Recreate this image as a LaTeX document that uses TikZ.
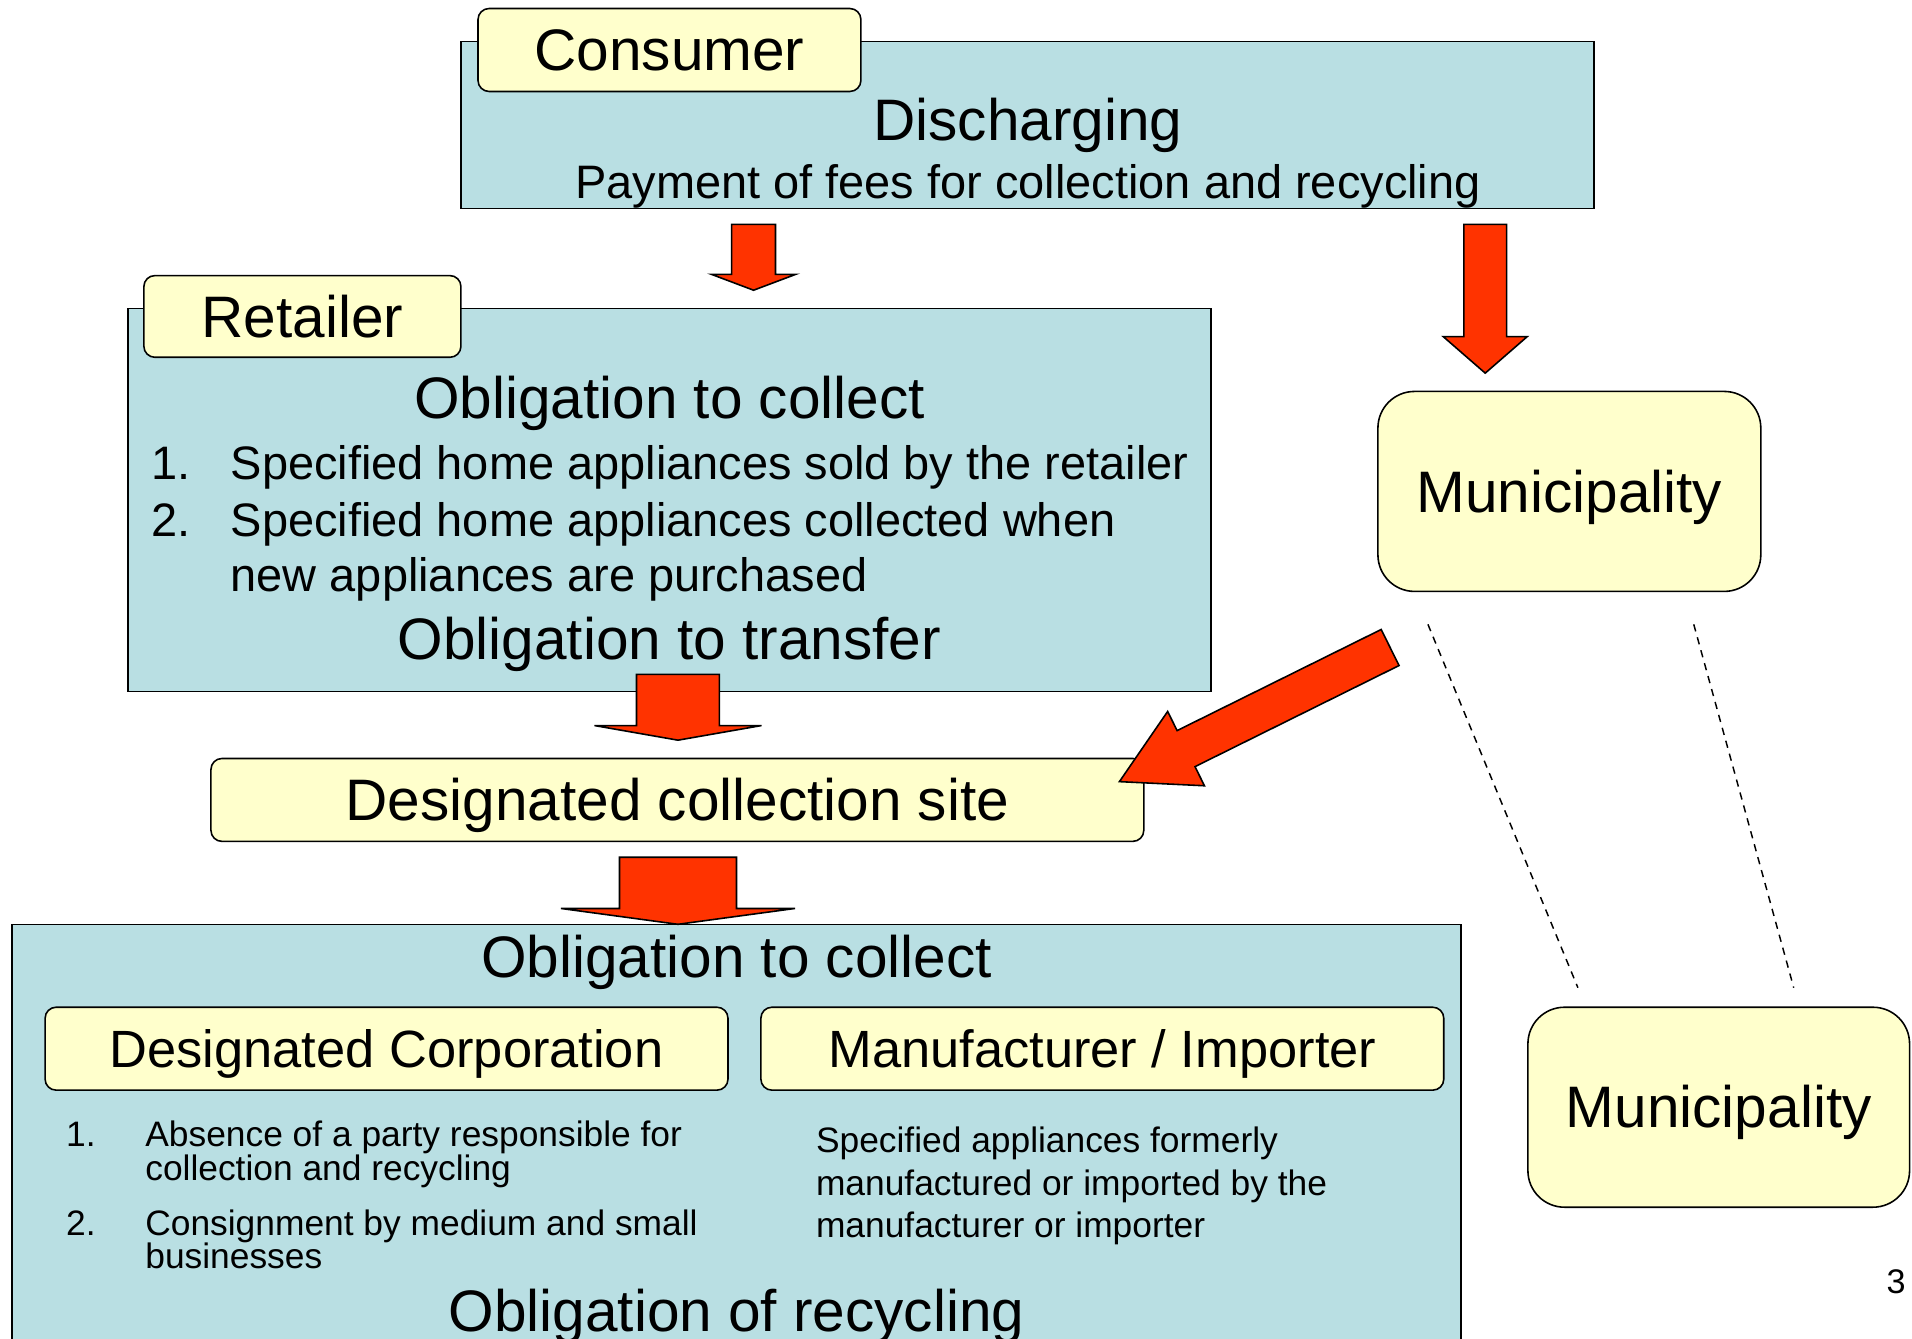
\documentclass[tikz,border=0pt]{standalone}
\usepackage{fontspec}
\setmainfont{Liberation Sans}
\usetikzlibrary{positioning, calc}
\definecolor{boxblue}{HTML}{B9DFE3}
\definecolor{tagyellow}{HTML}{FFFFCC}
\definecolor{arrowred}{HTML}{FF3300}
\tikzset{
        bluebox/.style={draw, fill=boxblue, line width=1.3pt, inner sep=0pt},
        tagbox/.style={draw, fill=tagyellow, line width=1.3pt, rounded corners=9pt,
                inner sep=0pt, text height=34pt, text depth=0pt, font=\fontsize{48}{52}\selectfont},
        munibox/.style={tagbox, rounded corners=30pt},
        subtag/.style={tagbox, text height=31pt, font=\fontsize{43}{47}\selectfont},
        bigtext/.style={inner sep=0pt, anchor=base, font=\fontsize{48}{52}\selectfont},
        midtext/.style={inner sep=0pt, anchor=base west, font=\fontsize{38.5}{42}\selectfont},
        smalltext/.style={inner sep=0pt, anchor=base west, font=\fontsize{29}{32}\selectfont},
        redarrow/.style={draw, fill=arrowred, line width=1.3pt, line join=miter},
        guide/.style={dashed, dash pattern=on 6pt off 5pt, line width=1.2pt}
        }
% tail, tip, shaft half width, head half width, head length
\newcommand{\blockarrow}[5]{%
        \coordinate (ba-j) at ($(#2)!#5!(#1)$);
        \draw[redarrow] ($(#1)!#3!90:(#2)$) -- ($(ba-j)!#3!90:(#2)$) -- ($(ba-j)!#4!90:(#2)$)
              -- (#2) -- ($(ba-j)!#4!-90:(#2)$) -- ($(ba-j)!#3!-90:(#2)$) -- ($(#1)!#3!-90:(#2)$) -- cycle;
}

\begin{document}
\begin{tikzpicture}[x=1pt, y=-1pt]
        \useasboundingbox (0,0) rectangle (1568,1098);

        % consumer
        \node[bluebox, minimum width=929pt, minimum height=137pt] (dischbox) at (842.5,102.5) {};
        \node[tagbox, minimum width=314pt, minimum height=68pt] (consumer) at (549,41) {Consumer};
        \node[bigtext] (disch) at (843,115) {Discharging};
        \node[midtext, anchor=base] (fees) at (843,163) {Payment of fees for collection and recycling};

        % retailer
        \node[bluebox, minimum width=888pt, minimum height=314pt] (retbox) at (549,410) {};
        \node[tagbox, minimum width=260pt, minimum height=67pt] (retailer) at (248,259.5) {Retailer};
        \node[bigtext] (retcollect) at (549,343) {Obligation to collect};
        \node[midtext] (retn1) at (124,393) {1.};
        \node[midtext] (ret1) at (189,393) {Specified home appliances sold by the retailer};
        \node[midtext] (retn2) at (124,440) {2.};
        \node[midtext] (ret2) at (189,440) {Specified home appliances collected when};
        \node[midtext] (ret2b) at (189,485) {new appliances are purchased};
        \node[bigtext] (transfer) at (549,541) {Obligation to transfer};

        % municipalities and site
        \node[munibox, minimum width=314pt, minimum height=164pt] (muni1) at (1287,403) {Municipality};
        \node[munibox, minimum width=313pt, minimum height=164pt] (muni2) at (1409.5,908) {Municipality};
        \node[tagbox, minimum width=765pt, minimum height=68pt] (site) at (555.5,656) {Designated collection site};

        % producers
        \node[bluebox, minimum width=1188pt, minimum height=352pt] (prodbox) at (604,934) {};
        \node[bigtext] (prodcollect) at (604,802) {Obligation to collect};
        \node[subtag, minimum width=560pt, minimum height=68pt] (corp) at (317,860) {Designated Corporation};
        \node[subtag, minimum width=560pt, minimum height=68pt] (maker) at (904,860) {Manufacturer / Importer};
        \node[smalltext] (corpn1) at (54,940.5) {1.};
        \node[smalltext] (corp1) at (119,940.5) {Absence of a party responsible for};
        \node[smalltext] (corp1b) at (119,968) {collection and recycling};
        \node[smalltext] (corpn2) at (54,1013) {2.};
        \node[smalltext] (corp2) at (119,1013) {Consignment by medium and small};
        \node[smalltext] (corp2b) at (119,1040) {businesses};
        \node[smalltext] (maker1) at (669,945) {Specified appliances formerly};
        \node[smalltext] (maker2) at (669,980) {manufactured or imported by the};
        \node[smalltext] (maker3) at (669,1015) {manufacturer or importer};
        \node[bigtext] (recycle) at (604,1092) {Obligation of recycling};
        \node[smalltext, anchor=base, font=\fontsize{28}{30}\selectfont] (page) at (1555,1061) {3};

        % arrows
        \coordinate (a1s) at (618,184);  \coordinate (a1e) at (618,238);
        \coordinate (a2s) at (1218,184); \coordinate (a2e) at (1218,306);
        \coordinate (a3s) at (556,553);  \coordinate (a3e) at (556,607);
        \coordinate (a4s) at (556,703);  \coordinate (a4e) at (556,758);
        \coordinate (a5s) at (1140,531); \coordinate (a5e) at (918,641);
        \blockarrow{a1s}{a1e}{18pt}{34.5pt}{13pt}
        \blockarrow{a2s}{a2e}{17.5pt}{34.5pt}{30pt}
        \blockarrow{a3s}{a3e}{34pt}{68.5pt}{12pt}
        \blockarrow{a4s}{a4e}{48pt}{96pt}{13pt}
        \blockarrow{a5s}{a5e}{16.5pt}{34pt}{61pt}

        % dashed guides
        \coordinate (d1a) at (1171,512); \coordinate (d1b) at (1294,810);
        \coordinate (d2a) at (1389,512); \coordinate (d2b) at (1471,810);
        \draw[guide] (d1a) -- (d1b) (d2a) -- (d2b);
\end{tikzpicture}
\end{document}
